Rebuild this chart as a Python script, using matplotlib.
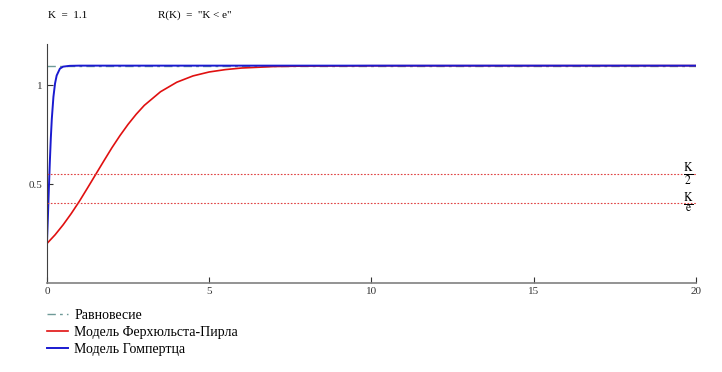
import matplotlib.pyplot as plt

plt.rcParams['font.family'] = ['Liberation Serif', 'DejaVu Serif']
plt.rcParams['mathtext.fontset'] = 'stix'

K = 1.1

# Verhulst-Pearl (logistic) curve
t_red = [0, 0.25, 0.5, 0.75, 1, 1.25, 1.5, 1.75, 2, 2.25, 2.5, 2.75, 3, 3.5,
         4, 4.5, 5, 5.5, 6, 7, 8, 10, 20]
y_red = [0.2, 0.244, 0.295, 0.352, 0.414, 0.481, 0.549, 0.617, 0.684, 0.746,
         0.803, 0.854, 0.899, 0.968, 1.016, 1.048, 1.068, 1.080, 1.088,
         1.0955, 1.098, 1.0995, 1.1]

# Gompertz curve
t_blue = [0, 0.03, 0.06, 0.09, 0.12, 0.15, 0.2, 0.25, 0.3, 0.4, 0.5, 0.7, 1, 20]
y_blue = [0.2, 0.334, 0.480, 0.615, 0.734, 0.830, 0.942, 1.010, 1.050, 1.085,
          1.095, 1.099, 1.1, 1.1]

x_ticks = [0, 5, 10, 15, 20]
y_ticks = [0.5, 1]
y_ticklabels = ['0.5', '1']

fig = plt.figure(figsize=(7.22, 3.72), dpi=100)
ax = fig.add_axes([0.065, 0.239, 0.899, 0.643])

eq, = ax.plot([0, 20], [K, K], color='#6f9a98', lw=1.0, dashes=(6, 3, 2, 3))
red, = ax.plot(t_red, y_red, color='#e01010', lw=1.2)
blue, = ax.plot(t_blue, y_blue, color='#1a1ad0', lw=1.4)

ax.plot([0, 20], [K / 2, K / 2], color='#e04040', lw=0.8, dashes=(1.5, 1.5))
ax.plot([0, 20], [K / 2.718281828, K / 2.718281828], color='#e04040', lw=0.8,
        dashes=(1.5, 1.5))
ax.text(19.75, K / 2, r'$\frac{\mathrm{K}}{2}$', ha='center', va='center', fontsize=12)
ax.text(19.75, K / 2.718281828, r'$\frac{\mathrm{K}}{\mathrm{e}}$', ha='center',
        va='center', fontsize=12)

ax.set_xlim(0, 20)
ax.set_ylim(0, 1.21)
ax.set_xticks(x_ticks)
ax.set_yticks(y_ticks)
ax.set_yticklabels(y_ticklabels)
ax.tick_params(direction='in', length=4, width=0.8, labelsize=8, colors='#333333',
               pad=3)
ax.spines['top'].set_visible(False)
ax.spines['right'].set_visible(False)
ax.spines['left'].set_color('#404040')
ax.spines['bottom'].set_color('#808080')
ax.spines['bottom'].set_linewidth(1.2)

fig.text(48 / 722, 1 - 15 / 372, 'K  =  1.1', fontsize=8, va='center')
fig.text(158 / 722, 1 - 15 / 372, 'R(K)  =  "K < e"', fontsize=8, va='center')

fig.legend([eq, red, blue],
           ['Равновесие', 'Модель Ферхюльста-Пирла', 'Модель Гомпертца'],
           loc='upper left', bbox_to_anchor=(47 / 722, 1 - 309 / 372),
           frameon=False, fontsize=10, handlelength=1.5, handletextpad=0.45,
           borderpad=0, borderaxespad=0, labelspacing=0.3)

fig.savefig('out.png', dpi=100)
